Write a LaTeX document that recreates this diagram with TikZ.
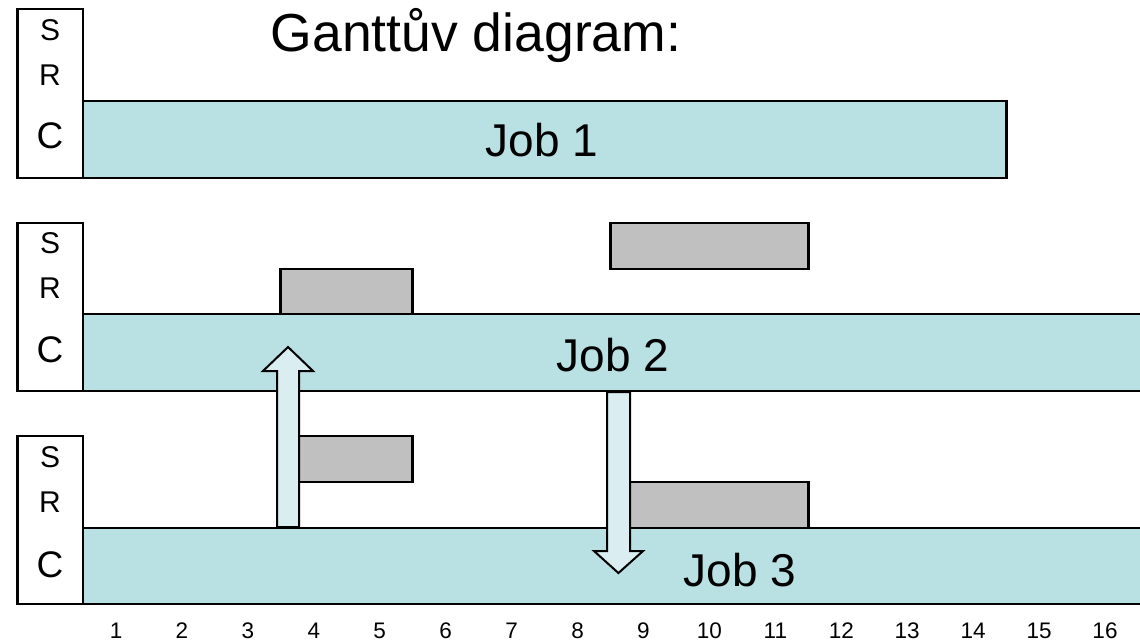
\documentclass[tikz,border=0pt]{standalone}
\usepackage{fontspec}
\setmainfont{Liberation Sans}
\usetikzlibrary{fit}
\definecolor{barfill}{RGB}{185,224,227}
\definecolor{grayfill}{RGB}{192,192,192}
\definecolor{arrowfill}{RGB}{218,237,240}
\tikzset{
  frame/.style={draw=black, line width=2.8pt, inner sep=0pt},
  srcbox/.style={frame, fill=white},
  bar/.style={frame, fill=barfill},
  busy/.style={frame, fill=grayfill},
  blockarrow/.style={draw=black, line width=2pt, fill=arrowfill, line join=miter},
  small/.style={font=\fontsize{30}{30}\selectfont},
  big/.style={font=\fontsize{37}{37}\selectfont},
  joblabel/.style={font=\fontsize{46}{46}\selectfont},
  ticklabel/.style={font=\fontsize{22.5}{22.5}\selectfont, inner sep=0pt, anchor=base},
}
\begin{document}
\begin{tikzpicture}[x=65.93pt, y=-1pt, xshift=50.07pt]
\clip (-0.7595,0) rectangle (16.531,641);
\fill[white] (-0.7595,0) rectangle (16.531,641);
% title
\node[font=\fontsize{53.5}{53.5}\selectfont] (title) at (6.46,35) {Ganttův diagram:};
% ---- row 1
\node[srcbox, fit={(-0.5,9) (0.5,178)}] (src1) {};
\node[bar, fit={(0.5,101) (14.5,178)}] (job1) {};
\node[small] (s1) at (0,30) {S};
\node[small] (r1) at (0,75) {R};
\node[big] (c1) at (0,136) {C};
\node[joblabel] (j1l) at (7.46,140) {Job 1};
% ---- row 2
\node[srcbox, fit={(-0.5,223) (0.5,391)}] (src2) {};
\node[bar, fit={(0.5,314) (17.5,391)}] (job2) {};
\node[busy, fit={(3.5,269) (5.5,314)}] (b21) {};
\node[busy, fit={(8.5,223) (11.5,269)}] (b22) {};
\node[small] (s2) at (0,243) {S};
\node[small] (r2) at (0,288) {R};
\node[big] (c2) at (0,350) {C};
\node[joblabel] (j2l) at (8.54,355) {Job 2};
% ---- row 3
\node[srcbox, fit={(-0.5,436) (0.5,604)}] (src3) {};
\node[bar, fit={(0.5,528) (17.5,604)}] (job3) {};
\node[busy, fit={(3.5,436) (5.5,482)}] (b31) {};
\node[busy, fit={(8.5,482) (11.5,528)}] (b32) {};
\node[small] (s3) at (0,457) {S};
\node[small] (r3) at (0,502) {R};
\node[big] (c3) at (0,565) {C};
\node[joblabel] (j3l) at (10.46,570) {Job 3};
% ---- block arrows
\draw[blockarrow] (3.442,527) -- (3.442,371) -- (3.229,371) -- (3.609,347)
  -- (3.988,371) -- (3.776,371) -- (3.776,527) -- cycle;
\draw[blockarrow] (8.447,392) -- (8.447,551) -- (8.250,551) -- (8.62,573)
  -- (8.993,551) -- (8.796,551) -- (8.796,392) -- cycle;
% ---- axis
\foreach \n in {1,...,16} {
  \node[ticklabel] (t\n) at (\n,638) {\n};
}
\end{tikzpicture}
\end{document}
